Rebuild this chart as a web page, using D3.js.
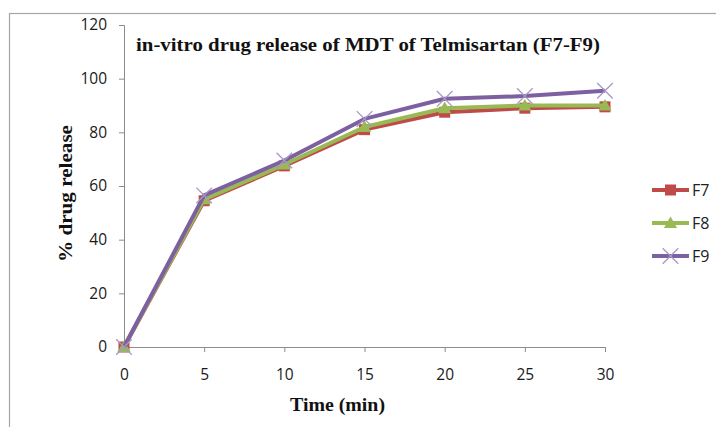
<!DOCTYPE html>
<html>
<head>
<meta charset="utf-8">
<script src="https://cdn.jsdelivr.net/npm/d3@7"></script>
<style>
  body { margin: 0; background: #fff; }
  .tick text { font-family: "Open Sans", "Noto Sans", sans-serif; font-size: 15.5px; fill: #1a1a1a; }
</style>
</head>
<body>
<div id="chart"></div>
<script>
// Data
const times = [0, 5, 10, 15, 20, 25, 30]
const f7 = [0, 54.5, 67.5, 81, 87.5, 89, 89.5]
const f8 = [0, 55, 68, 82, 89, 90, 90]
const f9 = [0, 56.5, 69.5, 85, 92.5, 93.5, 95.5]
const seriesNames = ["F7", "F8", "F9"]
const yTicks = [0, 20, 40, 60, 80, 100, 120]

const series = [
  { name: seriesNames[0], values: f7, color: "#BE4B48", marker: "square" },
  { name: seriesNames[1], values: f8, color: "#98B954", marker: "triangle" },
  { name: seriesNames[2], values: f9, color: "#7D60A0", marker: "x" },
]

const width = 716, height = 427
const dimensions = {
  margin: { top: 25, left: 124 },
  boundedWidth: 481,
  boundedHeight: 322,
}

const svg = d3.select("#chart").append("svg")
  .attr("width", width)
  .attr("height", height)

// outer frame
svg.append("rect")
  .attr("x", 9.5).attr("y", 13.5)
  .attr("width", 730).attr("height", 430)
  .attr("fill", "none")
  .attr("stroke", "#a6a6a6")
  .attr("stroke-width", 1.2)

const bounds = svg.append("g")
  .attr("transform", `translate(${dimensions.margin.left}, ${dimensions.margin.top})`)

const xScale = d3.scaleLinear().domain([0, 30]).range([0, dimensions.boundedWidth])
const yScale = d3.scaleLinear().domain([0, 120]).range([dimensions.boundedHeight, 0])

// axes
const yAxis = bounds.append("g")
  .call(d3.axisLeft(yScale).tickValues(yTicks).tickSize(5).tickPadding(12))
yAxis.select(".domain").attr("stroke", "#8c8c8c")
yAxis.selectAll(".tick line").attr("stroke", "#8c8c8c")

const xAxis = bounds.append("g")
  .attr("transform", `translate(0, ${dimensions.boundedHeight})`)
  .call(d3.axisBottom(xScale).tickValues(times).tickSize(5).tickPadding(17))
xAxis.select(".domain").attr("stroke", "#8c8c8c")
xAxis.selectAll(".tick line").attr("stroke", "#8c8c8c")

// markers
function drawMarker(g, type, color, cx, cy, s) {
  if (type === "square") {
    g.append("rect")
      .attr("x", cx - s / 2).attr("y", cy - s / 2)
      .attr("width", s).attr("height", s)
      .attr("fill", color)
  } else if (type === "triangle") {
    g.append("path")
      .attr("d", `M${cx},${cy - s * 0.6}L${cx + s * 0.6},${cy + s * 0.45}L${cx - s * 0.6},${cy + s * 0.45}Z`)
      .attr("fill", color)
  } else {
    const h = s * 0.6
    g.append("path")
      .attr("d", `M${cx - h},${cy - h}L${cx + h},${cy + h}M${cx - h},${cy + h}L${cx + h},${cy - h}`)
      .attr("stroke", "#a697c6")
      .attr("stroke-width", 1.3)
      .attr("fill", "none")
  }
}

const line = d3.line()
  .x((d, i) => xScale(times[i]))
  .y(d => yScale(d))

series.forEach(s => {
  const g = bounds.append("g")
  g.append("path")
    .datum(s.values)
    .attr("d", line)
    .attr("fill", "none")
    .attr("stroke", s.color)
    .attr("stroke-width", 4)
    .attr("stroke-linejoin", "round")
  s.values.forEach((v, i) => {
    drawMarker(g, s.marker, s.color, xScale(times[i]), yScale(v), s.marker === "x" ? 13 : 11)
  })
})

const serif = "'Liberation Serif', 'Times New Roman', serif"

// title
svg.append("text")
  .text("in-vitro drug release of MDT of Telmisartan (F7-F9)")
  .attr("x", 136).attr("y", 51)
  .attr("textLength", 464)
  .attr("lengthAdjust", "spacingAndGlyphs")
  .style("font-family", serif)
  .style("font-weight", "bold")
  .style("font-size", "18px")
  .attr("fill", "#111")

// axis titles
svg.append("text")
  .text("Time (min)")
  .attr("x", 290).attr("y", 411)
  .attr("textLength", 95)
  .attr("lengthAdjust", "spacingAndGlyphs")
  .style("font-family", serif)
  .style("font-weight", "bold")
  .style("font-size", "19px")
  .attr("fill", "#111")

svg.append("text")
  .text("% drug release")
  .attr("transform", "translate(72, 262) rotate(-90)")
  .attr("textLength", 137)
  .attr("lengthAdjust", "spacingAndGlyphs")
  .style("font-family", serif)
  .style("font-weight", "bold")
  .style("font-size", "19px")
  .attr("fill", "#111")

// legend
const legend = svg.append("g")
const legendY = [190, 223, 256]
series.forEach((s, i) => {
  const y = legendY[i]
  legend.append("line")
    .attr("x1", 652).attr("x2", 689)
    .attr("y1", y).attr("y2", y)
    .attr("stroke", s.color)
    .attr("stroke-width", 4)
  drawMarker(legend, s.marker, s.color, 670.5, y, s.marker === "x" ? 13 : 11)
  legend.append("text")
    .text(s.name)
    .attr("x", 692).attr("y", y + 6)
    .style("font-family", "'Open Sans', 'Noto Sans', sans-serif")
    .style("font-size", "16px")
    .attr("fill", "#222")
})
</script>
</body>
</html>
